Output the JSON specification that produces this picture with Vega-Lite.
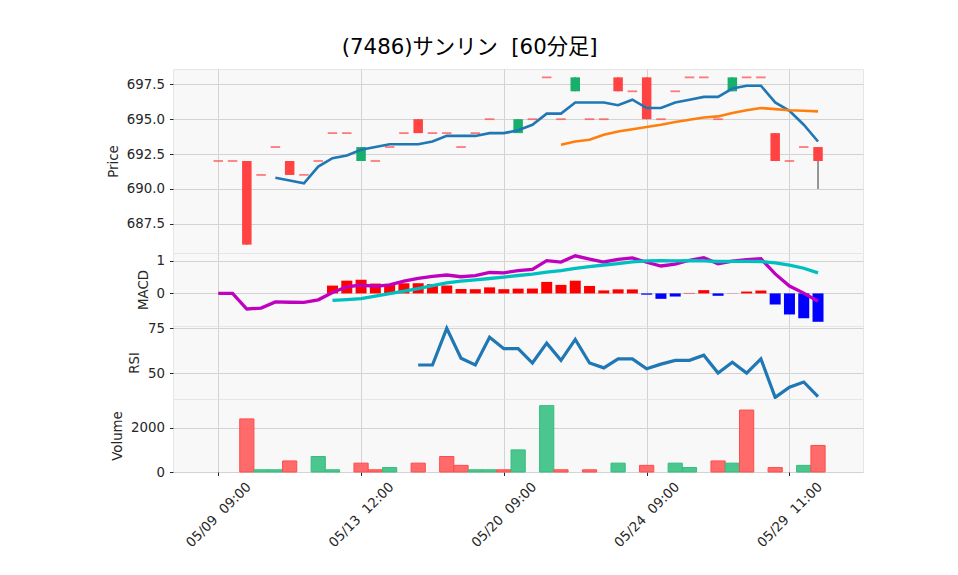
{
  "$schema": "https://vega.github.io/schema/vega-lite/v6.json",
  "autosize": {"type": "none"},
  "padding": {"left": 173, "top": 69, "right": 785, "bottom": 506},
  "background": "white",
  "bounds": "flush",
  "spacing": 0,
  "title": {"text": "(7486)サンリン \u00a0[60分足]", "font": "DejaVu Sans, Noto Sans CJK JP", "fontSize": 21.3, "fontWeight": "normal", "color": "#000000", "anchor": "middle", "frame": "bounds", "baseline": "alphabetic", "offset": 16, "dx": -15, "dy": 23},
  "config": {
    "view": {"fill": "#f8f8f8", "stroke": "#e6e6e6"},
    "axis": {"labelFont": "DejaVu Sans", "labelFontSize": 13.33, "titleFont": "DejaVu Sans", "titleFontSize": 13.33, "titleFontWeight": "normal", "labelColor": "#262626", "titleColor": "#262626", "gridColor": "#d3d3d3", "gridWidth": 1, "tickColor": "#262626", "tickSize": 3.5, "domain": false, "labelPadding": 5, "titlePadding": 6}
  },
  "datasets": {
    "bars": [
      {"i":0,"o":692,"h":692,"l":692,"c":692,"v":0,"vd":null,"ma5":null,"ma25":null,"macd":0,"sig":null,"hist":null,"rsi":null},
      {"i":1,"o":692,"h":692,"l":692,"c":692,"v":0,"vd":null,"ma5":null,"ma25":null,"macd":0,"sig":null,"hist":null,"rsi":null},
      {"i":2,"o":692,"h":692,"l":686,"c":686,"v":2400,"vd":"down","ma5":null,"ma25":null,"macd":-0.479,"sig":null,"hist":null,"rsi":null},
      {"i":3,"o":691,"h":691,"l":691,"c":691,"v":100,"vd":"up","ma5":null,"ma25":null,"macd":-0.449,"sig":null,"hist":null,"rsi":null},
      {"i":4,"o":693,"h":693,"l":693,"c":693,"v":100,"vd":"up","ma5":690.8,"ma25":null,"macd":-0.262,"sig":null,"hist":null,"rsi":null},
      {"i":5,"o":692,"h":692,"l":691,"c":691,"v":500,"vd":"down","ma5":690.6,"ma25":null,"macd":-0.271,"sig":null,"hist":null,"rsi":null},
      {"i":6,"o":691,"h":691,"l":691,"c":691,"v":0,"vd":null,"ma5":690.4,"ma25":null,"macd":-0.276,"sig":null,"hist":null,"rsi":null},
      {"i":7,"o":692,"h":692,"l":692,"c":692,"v":700,"vd":"up","ma5":691.6,"ma25":null,"macd":-0.196,"sig":null,"hist":null,"rsi":null},
      {"i":8,"o":694,"h":694,"l":694,"c":694,"v":100,"vd":"up","ma5":692.2,"ma25":null,"macd":0.028,"sig":-0.212,"hist":0.240,"rsi":null},
      {"i":9,"o":694,"h":694,"l":694,"c":694,"v":0,"vd":null,"ma5":692.4,"ma25":null,"macd":0.203,"sig":-0.189,"hist":0.392,"rsi":null},
      {"i":10,"o":692,"h":693,"l":692,"c":693,"v":400,"vd":"down","ma5":692.8,"ma25":null,"macd":0.258,"sig":-0.160,"hist":0.419,"rsi":null},
      {"i":11,"o":692,"h":692,"l":692,"c":692,"v":100,"vd":"down","ma5":693.0,"ma25":null,"macd":0.219,"sig":-0.083,"hist":0.302,"rsi":null},
      {"i":12,"o":693,"h":693,"l":693,"c":693,"v":200,"vd":"up","ma5":693.2,"ma25":null,"macd":0.265,"sig":-0.003,"hist":0.269,"rsi":null},
      {"i":13,"o":694,"h":694,"l":694,"c":694,"v":0,"vd":null,"ma5":693.2,"ma25":null,"macd":0.378,"sig":0.068,"hist":0.311,"rsi":null},
      {"i":14,"o":695,"h":695,"l":694,"c":694,"v":400,"vd":"down","ma5":693.2,"ma25":null,"macd":0.462,"sig":0.149,"hist":0.313,"rsi":54.5},
      {"i":15,"o":694,"h":694,"l":694,"c":694,"v":0,"vd":null,"ma5":693.4,"ma25":null,"macd":0.523,"sig":0.238,"hist":0.285,"rsi":54.5},
      {"i":16,"o":694,"h":694,"l":694,"c":694,"v":700,"vd":"down","ma5":693.8,"ma25":null,"macd":0.565,"sig":0.322,"hist":0.242,"rsi":75.0},
      {"i":17,"o":693,"h":693,"l":693,"c":693,"v":300,"vd":"down","ma5":693.8,"ma25":null,"macd":0.511,"sig":0.376,"hist":0.135,"rsi":58.3},
      {"i":18,"o":694,"h":694,"l":694,"c":694,"v":100,"vd":"up","ma5":693.8,"ma25":null,"macd":0.543,"sig":0.414,"hist":0.129,"rsi":54.5},
      {"i":19,"o":695,"h":695,"l":695,"c":695,"v":100,"vd":"up","ma5":694.0,"ma25":null,"macd":0.642,"sig":0.457,"hist":0.185,"rsi":70.0},
      {"i":20,"o":694,"h":694,"l":694,"c":694,"v":100,"vd":"down","ma5":694.0,"ma25":null,"macd":0.632,"sig":0.503,"hist":0.130,"rsi":63.6},
      {"i":21,"o":694,"h":695,"l":694,"c":695,"v":1000,"vd":"up","ma5":694.2,"ma25":null,"macd":0.697,"sig":0.550,"hist":0.146,"rsi":63.6},
      {"i":22,"o":695,"h":695,"l":695,"c":695,"v":0,"vd":null,"ma5":694.6,"ma25":null,"macd":0.740,"sig":0.591,"hist":0.149,"rsi":55.6},
      {"i":23,"o":698,"h":698,"l":698,"c":698,"v":3000,"vd":"up","ma5":695.4,"ma25":null,"macd":1.004,"sig":0.651,"hist":0.353,"rsi":66.7},
      {"i":24,"o":695,"h":695,"l":695,"c":695,"v":100,"vd":"down","ma5":695.4,"ma25":693.16,"macd":0.961,"sig":0.699,"hist":0.261,"rsi":57.1},
      {"i":25,"o":697,"h":698,"l":697,"c":698,"v":0,"vd":null,"ma5":696.2,"ma25":693.40,"macd":1.155,"sig":0.765,"hist":0.390,"rsi":68.8},
      {"i":26,"o":695,"h":695,"l":695,"c":695,"v":100,"vd":"down","ma5":696.2,"ma25":693.52,"macd":1.055,"sig":0.825,"hist":0.229,"rsi":55.6},
      {"i":27,"o":695,"h":695,"l":695,"c":695,"v":0,"vd":null,"ma5":696.2,"ma25":693.88,"macd":0.964,"sig":0.872,"hist":0.092,"rsi":52.9},
      {"i":28,"o":698,"h":698,"l":697,"c":697,"v":400,"vd":"up","ma5":696.0,"ma25":694.12,"macd":1.042,"sig":0.917,"hist":0.125,"rsi":57.9},
      {"i":29,"o":697,"h":697,"l":697,"c":697,"v":0,"vd":null,"ma5":696.4,"ma25":694.28,"macd":1.091,"sig":0.968,"hist":0.123,"rsi":57.9},
      {"i":30,"o":698,"h":698,"l":695,"c":695,"v":300,"vd":"down","ma5":695.8,"ma25":694.44,"macd":0.957,"sig":0.996,"hist":-0.039,"rsi":52.4},
      {"i":31,"o":695,"h":695,"l":695,"c":695,"v":0,"vd":null,"ma5":695.8,"ma25":694.60,"macd":0.841,"sig":1.008,"hist":-0.166,"rsi":55.0},
      {"i":32,"o":697,"h":697,"l":697,"c":697,"v":400,"vd":"up","ma5":696.2,"ma25":694.80,"macd":0.901,"sig":0.996,"hist":-0.096,"rsi":57.1},
      {"i":33,"o":698,"h":698,"l":698,"c":698,"v":200,"vd":"up","ma5":696.4,"ma25":694.96,"macd":1.017,"sig":1.002,"hist":0.014,"rsi":57.1},
      {"i":34,"o":698,"h":698,"l":698,"c":698,"v":0,"vd":null,"ma5":696.6,"ma25":695.12,"macd":1.096,"sig":0.996,"hist":0.100,"rsi":60.0},
      {"i":35,"o":695,"h":695,"l":695,"c":695,"v":500,"vd":"down","ma5":696.6,"ma25":695.20,"macd":0.906,"sig":0.979,"hist":-0.073,"rsi":50.0},
      {"i":36,"o":697,"h":698,"l":697,"c":698,"v":400,"vd":"up","ma5":697.2,"ma25":695.44,"macd":0.987,"sig":0.982,"hist":0.005,"rsi":56.0},
      {"i":37,"o":698,"h":698,"l":698,"c":698,"v":2800,"vd":"down","ma5":697.4,"ma25":695.64,"macd":1.039,"sig":0.982,"hist":0.057,"rsi":50.0},
      {"i":38,"o":698,"h":698,"l":698,"c":698,"v":0,"vd":null,"ma5":697.4,"ma25":695.80,"macd":1.067,"sig":0.979,"hist":0.088,"rsi":57.9},
      {"i":39,"o":694,"h":694,"l":692,"c":692,"v":200,"vd":"down","ma5":696.2,"ma25":695.72,"macd":0.599,"sig":0.939,"hist":-0.340,"rsi":36.4},
      {"i":40,"o":692,"h":692,"l":692,"c":692,"v":0,"vd":null,"ma5":695.6,"ma25":695.64,"macd":0.225,"sig":0.871,"hist":-0.646,"rsi":42.1},
      {"i":41,"o":693,"h":693,"l":693,"c":693,"v":300,"vd":"up","ma5":694.6,"ma25":695.60,"macd":0.010,"sig":0.772,"hist":-0.762,"rsi":45.0},
      {"i":42,"o":693,"h":693,"l":690,"c":692,"v":1200,"vd":"down","ma5":693.4,"ma25":695.56,"macd":-0.239,"sig":0.632,"hist":-0.871,"rsi":36.8}
    ]
  },
  "data": {"name": "bars"},
  "vconcat": [
    {
      "width": 690, "height": 184,
      "encoding": {
        "x": {"field": "i", "type": "quantitative", "scale": {"domain": [-3.17, 45.15], "nice": false, "zero": false, "padding": 0}, "axis": {"title": null, "labels": false, "ticks": false, "domain": false, "grid": true, "values": [0, 10, 20, 30, 40]}}
      },
      "layer": [
        {
          "transform": [{"filter": "datum.h != datum.l"}],
          "mark": {"type": "rule", "color": "#555555", "strokeWidth": 1.2},
          "encoding": {
            "y": {"field": "l", "type": "quantitative", "scale": {"domain": [685.4, 698.6], "nice": false, "zero": false}, "axis": {"title": "Price", "values": [687.5, 690, 692.5, 695, 697.5], "format": ".1f"}},
            "y2": {"field": "h"}
          }
        },
        {
          "transform": [{"filter": "datum.o != datum.c"}],
          "mark": {"type": "bar", "size": 9.5},
          "encoding": {
            "y": {"field": "o", "type": "quantitative", "scale": {"domain": [685.4, 698.6], "nice": false, "zero": false}, "axis": {"title": "Price", "values": [687.5, 690, 692.5, 695, 697.5], "format": ".1f"}},
            "y2": {"field": "c"},
            "color": {"condition": {"test": "datum.c > datum.o", "value": "#17b06a"}, "value": "#ff4343"}
          }
        },
        {
          "transform": [{"filter": "datum.o == datum.c"}],
          "mark": {"type": "tick", "orient": "horizontal", "size": 9.5, "thickness": 1.8, "color": "#ff4545"},
          "encoding": {
            "y": {"field": "c", "type": "quantitative", "scale": {"domain": [685.4, 698.6], "nice": false, "zero": false}, "axis": {"title": "Price", "values": [687.5, 690, 692.5, 695, 697.5], "format": ".1f"}}
          }
        },
        {
          "mark": {"type": "line", "color": "#1f77b4", "strokeWidth": 2.6},
          "encoding": {
            "y": {"field": "ma5", "type": "quantitative", "scale": {"domain": [685.4, 698.6], "nice": false, "zero": false}, "axis": {"title": "Price", "values": [687.5, 690, 692.5, 695, 697.5], "format": ".1f"}}
          }
        },
        {
          "mark": {"type": "line", "color": "#ff7f0e", "strokeWidth": 2.6},
          "encoding": {
            "y": {"field": "ma25", "type": "quantitative", "scale": {"domain": [685.4, 698.6], "nice": false, "zero": false}, "axis": {"title": "Price", "values": [687.5, 690, 692.5, 695, 697.5], "format": ".1f"}}
          }
        }
      ]
    },
    {
      "width": 690, "height": 73,
      "encoding": {
        "x": {"field": "i", "type": "quantitative", "scale": {"domain": [-3.17, 45.15], "nice": false, "zero": false, "padding": 0}, "axis": {"title": null, "labels": false, "ticks": false, "domain": false, "grid": true, "values": [0, 10, 20, 30, 40]}}
      },
      "layer": [
        {
          "mark": {"type": "bar", "size": 11},
          "encoding": {
            "y": {"field": "hist", "type": "quantitative", "scale": {"domain": [-1.0, 1.24], "nice": false, "zero": false}, "axis": {"title": "MACD", "values": [0, 1]}},
            "color": {"condition": {"test": "datum.hist >= 0", "value": "#ff0000"}, "value": "#0000ff"}
          }
        },
        {
          "mark": {"type": "line", "color": "#bf00bf", "strokeWidth": 3.3},
          "encoding": {
            "y": {"field": "macd", "type": "quantitative", "scale": {"domain": [-1.0, 1.24], "nice": false, "zero": false}, "axis": {"title": "MACD", "values": [0, 1]}}
          }
        },
        {
          "mark": {"type": "line", "color": "#00bfbf", "strokeWidth": 3.3},
          "encoding": {
            "y": {"field": "sig", "type": "quantitative", "scale": {"domain": [-1.0, 1.24], "nice": false, "zero": false}, "axis": {"title": "MACD", "values": [0, 1]}}
          }
        }
      ]
    },
    {
      "width": 690, "height": 73,
      "encoding": {
        "x": {"field": "i", "type": "quantitative", "scale": {"domain": [-3.17, 45.15], "nice": false, "zero": false, "padding": 0}, "axis": {"title": null, "labels": false, "ticks": false, "domain": false, "grid": true, "values": [0, 10, 20, 30, 40]}}
      },
      "layer": [
        {
          "mark": {"type": "line", "color": "#1f77b4", "strokeWidth": 3.2},
          "encoding": {
            "y": {"field": "rsi", "type": "quantitative", "scale": {"domain": [35.5, 76.3], "nice": false, "zero": false}, "axis": {"title": "RSI", "values": [50, 75]}}
          }
        }
      ]
    },
    {
      "width": 690, "height": 73,
      "transform": [{"filter": "datum.v > 0"}],
      "mark": {"type": "bar", "size": 14.2, "strokeWidth": 1},
      "encoding": {
        "x": {"field": "i", "type": "quantitative", "scale": {"domain": [-3.17, 45.15], "nice": false, "zero": false, "padding": 0}, "axis": {"title": null, "values": [0, 10, 20, 30, 40], "grid": true, "ticks": true, "domain": false, "labelExpr": "datum.value == 0 ? '05/09\u00a0 09:00' : datum.value == 10 ? '05/13\u00a0 12:00' : datum.value == 20 ? '05/20\u00a0 09:00' : datum.value == 30 ? '05/24\u00a0 09:00' : datum.value == 40 ? '05/29\u00a0 11:00' : ''", "labelAngle": -45, "labelAlign": "center", "labelBaseline": "middle", "labelPadding": 39, "labelFlush": false, "labelOverlap": false, "labelBound": false}},
        "y": {"field": "v", "type": "quantitative", "scale": {"domain": [0, 3300], "nice": false, "zero": true}, "axis": {"title": "Volume", "values": [0, 2000], "format": "d"}},
        "fill": {"condition": {"test": "datum.vd == 'up'", "value": "#4cc68f"}, "value": "#ff6b6b"},
        "stroke": {"condition": {"test": "datum.vd == 'up'", "value": "#33bd7d"}, "value": "#ff4c4c"}
      }
    }
  ]
}
